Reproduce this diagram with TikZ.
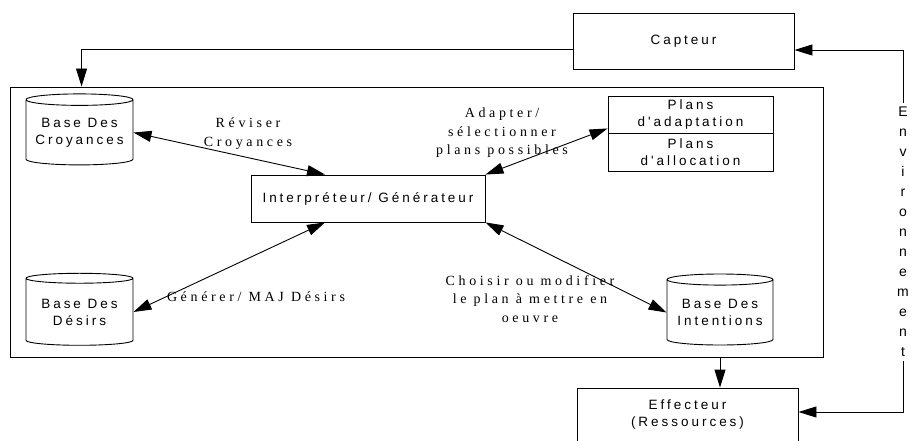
\documentclass[tikz,border=0pt]{standalone}
\usepackage{fontspec}
\setmainfont{Liberation Serif}
\setsansfont{Liberation Sans}
\newfontfamily\sansls[LetterSpace=22]{Liberation Sans}
\newfontfamily\serifls[LetterSpace=26]{Liberation Serif}
\usepackage{tikz}
\usetikzlibrary{positioning}
\usetikzlibrary{shapes.geometric}
\usetikzlibrary{arrows.meta}

\begin{document}
\begin{tikzpicture}[x=1pt, y=-1pt,
	box/.style={draw, line width=0.9pt, font=\sansls\fontsize{13.5}{17}\selectfont, align=center, inner sep=0pt},
	db/.style={box, cylinder, shape border rotate=90, aspect=0.13},
	lbl/.style={font=\serifls\fontsize{14}{18.5}\selectfont, align=center, inner sep=1pt},
	arr/.style={-{Triangle[length=18pt,width=11pt]}, line width=0.9pt},
	darr/.style={{Triangle[length=18pt,width=11pt]}-{Triangle[length=18pt,width=11pt]}, line width=0.9pt}]
				\useasboundingbox (0,0) rectangle (916,441);
				\node[box, minimum width=221pt, minimum height=56pt] (capteur) at (683.5,41) {Capteur};
				\node[box, minimum width=813pt, minimum height=270pt] (agent) at (416.5,222) {};
				\node[db, minimum width=107pt, minimum height=71pt] (croy) at (79.5,132.5) {Base Des\\Croyances};
				\node[db, minimum width=107pt, minimum height=72pt] (desirs) at (79.5,312) {Base Des\\Désirs};
				\node[db, minimum width=106pt, minimum height=71pt] (intent) at (720,312.5) {Base Des\\Intentions};
				\node[box, minimum width=234pt, minimum height=47pt] (interp) at (368,198.5) {Interpréteur/ Générateur};
				\node[box, minimum width=165pt, minimum height=37pt] (plansA) at (690.5,114.5) {Plans\\d'adaptation};
				\node[box, minimum width=165pt, minimum height=38pt] (plansB) at (690.5,152) {Plans\\d'allocation};
				\node[box, minimum width=221pt, minimum height=54pt] (effect) at (687.5,415) {Effecteur\\(Ressources)};
				\node[font=\sffamily\fontsize{14}{20}\selectfont, align=center, inner sep=4pt] (env) at (903,232) {E\\n\\v\\i\\r\\o\\n\\n\\e\\m\\e\\n\\t};
				
				\node[lbl] (lrev) at (248,133.5) {Réviser\\Croyances};
				\node[lbl] (ladapt) at (502,133) {Adapter/\\sélectionner\\plans possibles};
				\node[lbl] (lgen) at (256,297) {Générer/ MAJ Désirs};
				\node[lbl] (lchoix) at (530,299) {Choisir ou modifier\\le plan à mettre en\\oeuvre};
				
				\draw[arr] ([yshift=-8pt]capteur.west) -| ([xshift=72pt]agent.north west);
				\draw[arr] (env.north) |- ([yshift=-9pt]capteur.east);
				\draw[arr] (env.south) |- ([yshift=3pt]effect.east);
				\draw[arr] (intent |- agent.south) -- (intent |- effect.north);
				\draw[darr] (croy.east) -- ([xshift=-43pt]interp.north);
				\draw[darr] (interp.north east) -- ([yshift=5pt]plansA.south west);
				\draw[darr] ([xshift=-43pt]interp.south) -- (desirs.east);
				\draw[darr] (interp.south east) -- (intent.west);
			\end{tikzpicture}
\end{document}
